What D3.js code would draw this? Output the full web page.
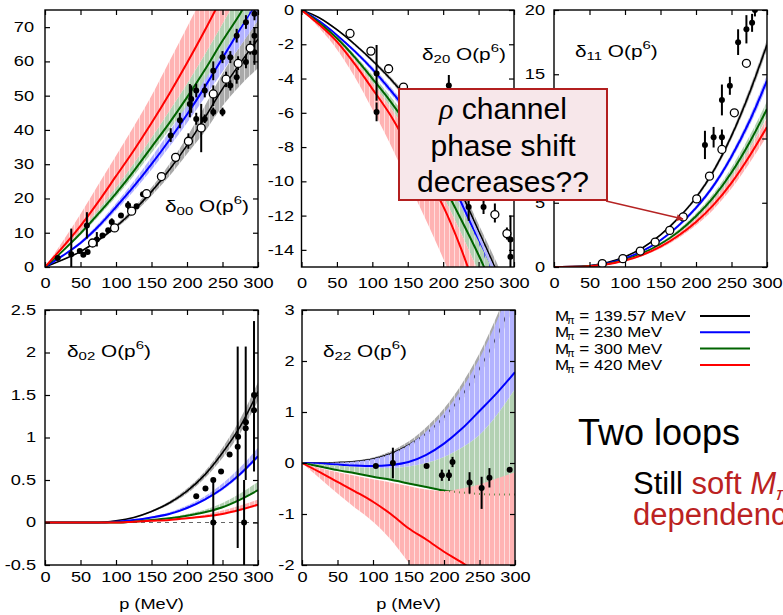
<!DOCTYPE html>
<html><head><meta charset="utf-8">
<script src="https://cdn.jsdelivr.net/npm/d3@7"></script>
<style>
body{margin:0;background:#fff}
svg{display:block}
text{font-family:"Liberation Sans",Arial,Helvetica,sans-serif}
</style>
</head><body>
<svg id="c" width="783" height="615"></svg>
<script>
// ---------------- DATA ----------------
const momenta = [0,25,50,75,100,125,150,175,200,225,250,275,300];
const xTicks = [0,50,100,150,200,250,300];
const xTickLabels = ["0","50","100","150","200","250","300"];
const massLabels = ["139.57 MeV","230 MeV","300 MeV","420 MeV"];
const seriesKeys = ["black","blue","green","red"];

// delta_00
const d00YTicks = [0,10,20,30,40,50,60,70];
const d00YLabels = ["0","10","20","30","40","50","60","70"];
const d00Black = [0,2.1,4.5,7.8,11.8,16.5,22,28.3,35.5,43.5,52,59.5,66.5];
const d00Blue  = [0,3.3,7,11.8,17.5,23.5,30,37,44.5,52.5,61,69.5,78];
const d00Green = [0,4.7,9.8,15.5,21.5,28,35,42,49.5,57.5,66,74,83];
const d00Red   = [0,5.8,12,19,26.5,34,42,50.5,59.5,69,79,89,99];
const d00GreyLo  = [0,2,4.3,7.4,11.2,15.6,20.8,26.5,33,39.5,47,53,58];
const d00GreyHi  = [0,2.2,4.7,8.2,12.4,17.4,23.2,30,38,47,56.5,64.5,72];
const d00BlueLo  = [0,3.1,6.6,11.1,16.5,22.2,28.4,35,42,49.5,57,64.5,72];
const d00BlueHi  = [0,3.5,7.5,12.6,18.6,25,32,39.5,47.5,56,65,74,83];
const d00GreenLo = [0,4.4,9.3,14.7,20.4,26.6,33.3,40,47,54.5,62.5,70,78];
const d00GreenHi = [0,5.1,10.6,16.7,23.2,30.2,37.7,45.5,53.5,62,71,80,89];
const d00RedLo   = [0,5.1,10.6,16.7,23.2,30.2,37.7,45.5,53.5,62,71,80,89];
const d00RedHi   = [0,7.5,15.5,24,32.5,41,50,60,70,80,90,100,110];
// [p, value, errLow, errHigh]
const d00Filled = [[18,2.6],[37,3.7,0,11.2],[49,4.7],[54,3.6,3.2,4.2],[60,4.4],[59,12.1,8.3,16],
  [73,8,6,10.2],[81,9.2],[89,10.7],[94,13.1,12,14.2],[107,15],[117,18,16.8,19.2],[129,17.7,17.2,18.2],
  [138,21.2],[177,38.4,36.5,40.5],[190,42.8,40.5,45],[204,47.6,43.7,53.4],[206,49,45,53],
  [213,51.5,49.5,53.5],[213,43.2,41.5,45],[225,51.5,49.5,53.5],[225,43.2,42,44.5],[237,57.3,54.5,60],
  [237,45.2,44,46.5],[250,45.2,44,46.5],[250,61.2,59.5,63],[261,61.2,59.5,63],[261,53,51.5,54.5],
  [270,67.5,65.5,69.5],[270,55.4,53.5,57.5],[283,71.4,69.5,73.5],[283,59.8,58,62],[295,73.9,72,76],
  [295,67.5,65,70],[295,62.7,59,66]];
const d00Open = [[67,7],[98,11.4],[122,16.3],[143,21.4],[164,26.4],[184,32],[202,36.7,34.5,39],
  [220,40.6,33.5,47.6],[237,50.5,47,53],[255,54.8,52.5,57],[272,59.4,57.5,61.5],[289,63.9,62,66]];

// delta_20
const d20YTicks = [0,-2,-4,-6,-8,-10,-12,-14];
const d20YLabels = ["0","-2","-4","-6","-8","-10","-12","-14"];
const d20Black = [0,-0.45,-1.15,-2,-2.95,-4,-5.2,-6.6,-8.4,-10.6,-12.9,-15.2,-17.6];
const d20Blue  = [0,-0.65,-1.47,-2.4,-3.45,-4.65,-5.95,-7.4,-9.1,-11.2,-13.5,-15.9,-18.4];
const d20Green = [0,-0.75,-1.65,-2.75,-4,-5.3,-6.75,-8.35,-10.2,-12.2,-14.3,-16.6,-19];
const d20Red   = [0,-0.85,-1.85,-3.15,-4.6,-6.1,-7.9,-9.6,-11.45,-13.9,-16.8,-19.8,-23];
const d20GreyLo  = [0,-0.47,-1.2,-2.08,-3.05,-4.13,-5.37,-6.82,-8.67,-10.93,-13.3,-15.7,-18.1];
const d20GreyHi  = [0,-0.43,-1.1,-1.92,-2.85,-3.87,-5.03,-6.38,-8.13,-10.27,-12.5,-14.7,-17.1];
const d20BlueLo  = [0,-0.68,-1.53,-2.5,-3.6,-4.85,-6.2,-7.7,-9.45,-11.6,-14,-16.5,-19];
const d20BlueHi  = [0,-0.62,-1.41,-2.3,-3.3,-4.45,-5.7,-7.1,-8.75,-10.8,-13,-15.3,-17.8];
const d20GreenLo = [0,-0.8,-1.75,-2.92,-4.25,-5.65,-7.2,-8.9,-10.85,-13,-15.3,-17.8,-20.4];
const d20GreenHi = [0,-0.7,-1.55,-2.6,-3.78,-5,-6.35,-7.85,-9.6,-11.5,-13.5,-15.6,-17.8];
const d20RedLo   = [0,-1.05,-2.3,-3.9,-5.8,-7.8,-10,-12.2,-14.5,-17,-19.8,-22.8,-26];
const d20RedHi   = [0,-0.8,-1.75,-2.92,-4.25,-5.65,-7.2,-8.9,-10.85,-13,-15.3,-17.8,-20.4];
const d20Filled = [[106,-3.7,-5.3,-2.05],[106,-5.95,-6.5,-5.4],[208,-4.4,-5,-3.8],[236,-11.5,-12.3,-10.7],
  [257,-11.5,-11.9,-11.1],[295,-13.4,-15,-12],[295,-14.4]];
const d20Open = [[68.5,-1.37],[98,-2.4],[123,-3.43],[144,-4.5],[273,-11.94,-12.4,-11.3],[290,-13.05,-13.4,-12.7]];

// delta_11
const d11YTicks = [0,5,10,15,20];
const d11YLabels = ["0","5","10","15","20"];
const d11Black = [0,0.01,0.1,0.35,0.8,1.5,2.5,3.8,5.4,7.5,10.2,13.5,17.3];
const d11Blue  = [0,0.01,0.08,0.28,0.66,1.25,2.08,3.2,4.6,6.35,8.6,11.3,14.5];
const d11Green = [0,0.01,0.07,0.24,0.56,1.07,1.78,2.73,3.95,5.45,7.35,9.65,12.3];
const d11Red   = [0,0.01,0.06,0.21,0.5,0.95,1.58,2.43,3.5,4.85,6.55,8.6,10.9];
const d11GreyLo  = [0,0.01,0.09,0.33,0.77,1.45,2.43,3.7,5.25,7.3,9.95,13.15,16.9];
const d11GreyHi  = [0,0.01,0.11,0.37,0.83,1.55,2.57,3.9,5.55,7.7,10.45,13.85,17.7];
const d11BlueLo  = [0,0.01,0.07,0.26,0.63,1.2,2,3.08,4.44,6.15,8.33,10.95,14.05];
const d11BlueHi  = [0,0.01,0.09,0.3,0.69,1.3,2.16,3.32,4.76,6.55,8.87,11.65,14.95];
const d11GreenLo = [0,0.01,0.06,0.21,0.51,0.99,1.66,2.56,3.72,5.15,6.95,9.15,11.7];
const d11GreenHi = [0,0.01,0.08,0.27,0.61,1.15,1.9,2.9,4.18,5.75,7.75,10.15,12.9];
const d11RedLo   = [0,0,0.05,0.18,0.44,0.86,1.44,2.23,3.24,4.5,6.1,8.05,10.2];
const d11RedHi   = [0,0.01,0.07,0.24,0.56,1.04,1.72,2.63,3.76,5.2,7,9.15,11.6];
const d11Filled = [[212.6,9.5,8.4,10.6],[224.8,10.1,9.3,10.9],[236.5,10.1,9.5,10.7],[236.5,13,11.8,14.2],
  [247.7,14.1,13.4,14.8],[259.3,17.5,16.5,18.5],[271,18.5,17.4,19.6],[279,19,18.3,19.7],[283,20,19.5,20.5]];
const d11Open = [[68,0.26],[97,0.65],[121.5,1.24],[142.5,1.94],[163,2.85],[182,3.9],[201,5.3],[219,7.07],
  [236.5,9.15],[254,12],[271,15.85]];

// delta_02
const d02YTicks = [-0.5,0,0.5,1,1.5,2,2.5];
const d02YLabels = ["-0.5","0","0.5","1","1.5","2","2.5"];
const d02Black = [0,0,0,0,0.02,0.06,0.13,0.23,0.37,0.56,0.82,1.13,1.54];
const d02Blue  = [0,0,0,0,0.01,0.03,0.06,0.1,0.17,0.27,0.4,0.57,0.78];
const d02Green = [0,0,0,0,0,0.01,0.03,0.05,0.08,0.12,0.18,0.27,0.38];
const d02Red   = [0,0,0,0,0,0.01,0.02,0.03,0.05,0.07,0.1,0.15,0.21];
const d02GreyLo  = [0,0,0,0,0.02,0.05,0.12,0.21,0.34,0.52,0.76,1.05,1.43];
const d02GreyHi  = [0,0,0,0,0.02,0.06,0.14,0.25,0.4,0.6,0.88,1.22,1.65];
const d02BlueLo  = [0,0,0,0,0.01,0.03,0.06,0.1,0.16,0.26,0.38,0.55,0.76];
const d02BlueHi  = [0,0,0,0,0.01,0.03,0.07,0.12,0.2,0.31,0.46,0.65,0.88];
const d02GreenLo = [0,0,0,0,0,0.01,0.03,0.05,0.08,0.12,0.18,0.27,0.37];
const d02GreenHi = [0,0,0,0,0,0.01,0.03,0.06,0.1,0.15,0.23,0.34,0.48];
const d02RedLo   = [0,0,0,0,0,0.01,0.02,0.03,0.05,0.07,0.1,0.14,0.19];
const d02RedHi   = [0,0,0,0,0,0.01,0.02,0.035,0.06,0.09,0.14,0.2,0.27];
const d02Filled = [[213,0.31],[226,0.4],[237,0.5],[237,0,-0.5,0.5],[248,0.6],[260,0.8],[271.4,0.89,-0.3,2.07],
  [272,1.01],[280.4,0,-0.5,0.5],[282.7,1.11,0.5,2.07],[283,1.18],[294.4,1.32,0.6,2.37],[294.4,1.5]];
const d02Open = [];

// delta_22
const d22YTicks = [-2,-1,0,1,2,3];
const d22YLabels = ["-2","-1","0","1","2","3"];
const d22Black = [0,0,0.01,0.03,0.08,0.18,0.35,0.58,0.9,1.32,1.85,2.5,3.3];
const d22Blue  = [0,-0.01,-0.03,-0.05,-0.06,-0.04,0.02,0.16,0.38,0.67,1.02,1.38,1.78];
const d22Green = [0,-0.07,-0.14,-0.2,-0.27,-0.33,-0.4,-0.47,-0.54,-0.58,-0.61,-0.62,-0.62];
const d22Red   = [0,-0.18,-0.37,-0.56,-0.76,-1,-1.28,-1.5,-1.74,-1.95,-2.2,-2.45,-2.7];
const d22GreyLo  = [0,0,0,0.02,0.06,0.15,0.3,0.52,0.82,1.22,1.72,2.35,3.1];
const d22GreyHi  = [0,0,0.02,0.05,0.11,0.23,0.42,0.7,1.07,1.55,2.15,2.9,3.8];
const d22BlueLo  = [0,-0.02,-0.05,-0.08,-0.1,-0.1,-0.07,0,0.12,0.3,0.55,0.95,1.45];
const d22BlueHi  = [0,0,0.01,0.03,0.08,0.18,0.36,0.62,0.98,1.45,2.05,2.8,3.7];
const d22GreenLo = [0,-0.07,-0.14,-0.2,-0.27,-0.33,-0.4,-0.47,-0.54,-0.58,-0.6,-0.6,-0.6];
const d22GreenHi = [0,-0.02,-0.05,-0.08,-0.1,-0.1,-0.07,0,0.12,0.3,0.55,0.95,1.45];
const d22RedLo   = [0,-0.3,-0.6,-0.88,-1.15,-1.5,-1.95,-2.4,-2.9,-3.4,-3.9,-4.4,-5];
const d22RedHi   = [0,-0.1,-0.18,-0.25,-0.32,-0.38,-0.45,-0.52,-0.55,-0.5,-0.42,-0.3,-0.18];
const d22Filled = [[104,-0.06],[128,0,-0.3,0.3],[175.5,-0.06],[197,-0.24,-0.35,-0.13],[207,-0.24,-0.35,-0.13],
  [212,0.02,-0.08,0.12],[236,-0.38,-0.6,-0.18],[253,-0.49,-0.9,-0.27],[264,-0.29,-0.48,-0.1],[292.5,-0.13]];
const d22Open = [];

// ---------------- STYLE / LAYOUT ----------------
const lineColor = {black:"#000000", blue:"#0000ff", green:"#006400", red:"#ff0000"};
const bandColor = {black:"#a9a9a9", blue:"#b3b3ff", green:"#b3d1b3", red:"#ffb3b3"};
const TICK_FS = 14, SX = 1.3;

const panels = [
  {box:[45,10,258,267], yDom:[0,75], yT:d00YTicks, yL:d00YLabels, yPad:11, xPad:11, sub:"00", lx:165, ly:212,
   lines:{black:d00Black,blue:d00Blue,green:d00Green,red:d00Red},
   bands:{black:[d00GreyLo,d00GreyHi],blue:[d00BlueLo,d00BlueHi],green:[d00GreenLo,d00GreenHi],red:[d00RedLo,d00RedHi]},
   filled:d00Filled, open:d00Open},
  {box:[301.5,10,514,267], yDom:[-15,0], yT:d20YTicks, yL:d20YLabels, yPad:7.5, xPad:11, sub:"20", lx:422, ly:60,
   lines:{black:d20Black,blue:d20Blue,green:d20Green,red:d20Red},
   bands:{black:[d20GreyLo,d20GreyHi],blue:[d20BlueLo,d20BlueHi],green:[d20GreenLo,d20GreenHi],red:[d20RedLo,d20RedHi]},
   filled:d20Filled, open:d20Open},
  {box:[554,10,767,267], yDom:[0,20], yT:d11YTicks, yL:d11YLabels, yPad:9, xPad:11, sub:"11", lx:575, ly:57,
   lines:{black:d11Black,blue:d11Blue,green:d11Green,red:d11Red},
   bands:{black:[d11GreyLo,d11GreyHi],blue:[d11BlueLo,d11BlueHi],green:[d11GreenLo,d11GreenHi],red:[d11RedLo,d11RedHi]},
   filled:d11Filled, open:d11Open},
  {box:[45,310,258,565], yDom:[-0.5,2.5], yT:d02YTicks, yL:d02YLabels, yPad:9, xPad:7, sub:"02", lx:67, ly:357, zero:true, xTitle:true,
   lines:{black:d02Black,blue:d02Blue,green:d02Green,red:d02Red},
   bands:{black:[d02GreyLo,d02GreyHi],blue:[d02BlueLo,d02BlueHi],green:[d02GreenLo,d02GreenHi],red:[d02RedLo,d02RedHi]},
   filled:d02Filled, open:d02Open},
  {box:[302,310,515,565], yDom:[-2,3], yT:d22YTicks, yL:d22YLabels, yPad:7.5, xPad:7, sub:"22", lx:323, ly:357, xTitle:true,
   lines:{black:d22Black,blue:d22Blue,green:d22Green,red:d22Red},
   bands:{black:[d22GreyLo,d22GreyHi],blue:[d22BlueLo,d22BlueHi],green:[d22GreenLo,d22GreenHi],red:[d22RedLo,d22RedHi]},
   filled:d22Filled, open:d22Open}
];

const svg = d3.select("#c");
const defs = svg.append("defs");
seriesKeys.forEach(k => {
  const p = defs.append("pattern").attr("id","pat-"+k).attr("patternUnits","userSpaceOnUse")
    .attr("width",5).attr("height",10);
  p.append("rect").attr("width",4).attr("height",10).attr("fill",bandColor[k]);
  p.append("rect").attr("x",4).attr("width",1).attr("height",10).attr("fill",bandColor[k]).attr("fill-opacity",0.45);
});
defs.append("marker").attr("id","arrow").attr("viewBox","0 0 10 10").attr("refX",9).attr("refY",5)
  .attr("markerWidth",9).attr("markerHeight",7).attr("markerUnits","userSpaceOnUse").attr("orient","auto")
  .append("path").attr("d","M0,0 L10,5 L0,10 z").attr("fill","#b52323");

panels.forEach((P,i) => {
  const [l,t,r,b] = P.box;
  const x = d3.scaleLinear().domain([0,300]).range([l,r]);
  const y = d3.scaleLinear().domain(P.yDom).range([b,t]);
  defs.append("clipPath").attr("id","clip"+i).append("rect")
    .attr("x",l).attr("y",t).attr("width",r-l).attr("height",b-t);
  const g = svg.append("g").attr("clip-path",`url(#clip${i})`);

  if (P.zero) {
    g.append("line").attr("x1",x(0)).attr("x2",x(300)).attr("y1",y(0)).attr("y2",y(0))
      .attr("stroke","#666").attr("stroke-width",1).attr("stroke-dasharray","4,4");
  }
  seriesKeys.forEach(k => {
    const [lo,hi] = P.bands[k];
    const area = d3.area().x((d,j)=>x(momenta[j])).y0((d,j)=>y(lo[j])).y1((d,j)=>y(hi[j]))
      .curve(d3.curveMonotoneX);
    g.append("path").datum(lo).attr("d",area).attr("fill",`url(#pat-${k})`);
    const line = d3.line().x((d,j)=>x(momenta[j])).y(d=>y(d)).curve(d3.curveMonotoneX);
    g.append("path").datum(P.lines[k]).attr("d",line).attr("fill","none")
      .attr("stroke",lineColor[k]).attr("stroke-width",k==="black"?1.6:2);
  });

  const pts = P.filled.concat(P.open);
  pts.filter(d=>d.length>2).forEach(d => {
    g.append("line").attr("x1",x(d[0])).attr("x2",x(d[0])).attr("y1",y(d[2])).attr("y2",y(d[3]))
      .attr("stroke","#000").attr("stroke-width",2);
  });
  g.selectAll("circle.f").data(P.filled).join("circle").attr("class","f")
    .attr("cx",d=>x(d[0])).attr("cy",d=>y(d[1])).attr("r",3).attr("fill","#000");
  g.selectAll("circle.o").data(P.open).join("circle").attr("class","o")
    .attr("cx",d=>x(d[0])).attr("cy",d=>y(d[1])).attr("r",4).attr("fill","#fff")
    .attr("stroke","#000").attr("stroke-width",1.3);

  // axes (inward ticks, mirrored)
  const ax = svg.append("g").attr("transform",`translate(0,${b})`)
    .call(d3.axisBottom(x).tickValues(xTicks).tickFormat((d,j)=>xTickLabels[j])
      .tickSize(-5).tickSizeOuter(0).tickPadding(P.xPad));
  const axT = svg.append("g").attr("transform",`translate(0,${t})`)
    .call(d3.axisTop(x).tickValues(xTicks).tickFormat("").tickSize(-5).tickSizeOuter(0));
  const ay = svg.append("g").attr("transform",`translate(${l},0)`)
    .call(d3.axisLeft(y).tickValues(P.yT).tickFormat((d,j)=>P.yL[j])
      .tickSize(-5).tickSizeOuter(0).tickPadding(P.yPad/SX));
  const ayR = svg.append("g").attr("transform",`translate(${r},0)`)
    .call(d3.axisRight(y).tickValues(P.yT).tickFormat("").tickSize(-5).tickSizeOuter(0));
  [ax,axT,ay,ayR].forEach(a => {
    a.select(".domain").remove();
    a.selectAll("line").attr("stroke","#000").attr("stroke-width",1.2);
    a.selectAll("text").attr("font-size",TICK_FS).attr("fill","#000")
      .attr("font-family","Liberation Sans, Arial, sans-serif").attr("transform",`scale(${SX},1)`);
  });
  svg.append("rect").attr("x",l).attr("y",t).attr("width",r-l).attr("height",b-t)
    .attr("fill","none").attr("stroke","#000").attr("stroke-width",1.4);

  // panel label
  const lab = svg.append("text").attr("transform",`translate(${P.lx},${P.ly}) scale(${SX},1)`)
    .attr("font-size",16).attr("fill","#000");
  lab.append("tspan").text("δ");
  lab.append("tspan").attr("font-size",11.5).attr("dy",3).text(P.sub);
  lab.append("tspan").attr("dy",-3).text(" O(p");
  lab.append("tspan").attr("font-size",11.5).attr("dy",-8).text("6");
  lab.append("tspan").attr("dy",8).text(")");

  if (P.xTitle) {
    svg.append("text").attr("transform",`translate(${(l+r)/2},609) scale(${SX},1)`)
      .attr("text-anchor","middle").attr("font-size",14).text("p (MeV)");
  }
});

// legend
massLabels.forEach((m,i) => {
  const yy = 321 + i*16.3;
  const tx = svg.append("text").attr("transform",`translate(555,${yy}) scale(1.1,1)`)
    .attr("font-size",15.5).attr("fill","#000");
  tx.append("tspan").text("M");
  tx.append("tspan").attr("font-size",10).attr("dy",3).attr("dx",-2).text("π");
  tx.append("tspan").attr("dy",-3).text(" = " + m);
  svg.append("line").attr("x1",700).attr("x2",750).attr("y1",yy-5).attr("y2",yy-5)
    .attr("stroke",lineColor[seriesKeys[i]]).attr("stroke-width",2);
});

// slide text
svg.append("text").attr("x",578).attr("y",445).attr("font-size",36).attr("fill","#000").text("Two loops");
const st = svg.append("text").attr("x",633).attr("y",494).attr("font-size",31).attr("fill","#000");
st.append("tspan").text("Still ");
st.append("tspan").attr("fill","#bb2222").text("soft ");
st.append("tspan").attr("fill","#bb2222").attr("font-style","italic").text("M");
st.append("tspan").attr("fill","#bb2222").attr("font-style","italic").attr("font-size",19).attr("dy",6).text("π");
svg.append("text").attr("x",633).attr("y",525).attr("font-size",31).attr("fill","#bb2222").text("dependence");

// annotation
svg.append("rect").attr("x",399).attr("y",89).attr("width",208).attr("height",111)
  .attr("fill","#f7e7ea").attr("stroke","#b31f1f").attr("stroke-width",2);
const a1 = svg.append("text").attr("x",503).attr("y",119).attr("text-anchor","middle").attr("font-size",30);
a1.append("tspan").attr("font-family","Liberation Serif, Times New Roman, serif").attr("font-style","italic").text("ρ");
a1.append("tspan").text(" channel");
svg.append("text").attr("x",503).attr("y",156).attr("text-anchor","middle").attr("font-size",30).text("phase shift");
svg.append("text").attr("x",503).attr("y",192).attr("text-anchor","middle").attr("font-size",30).text("decreases??");
svg.append("line").attr("x1",606).attr("y1",201).attr("x2",683).attr("y2",219)
  .attr("stroke","#b52323").attr("stroke-width",1.3).attr("marker-end","url(#arrow)");
</script>
</body></html>
